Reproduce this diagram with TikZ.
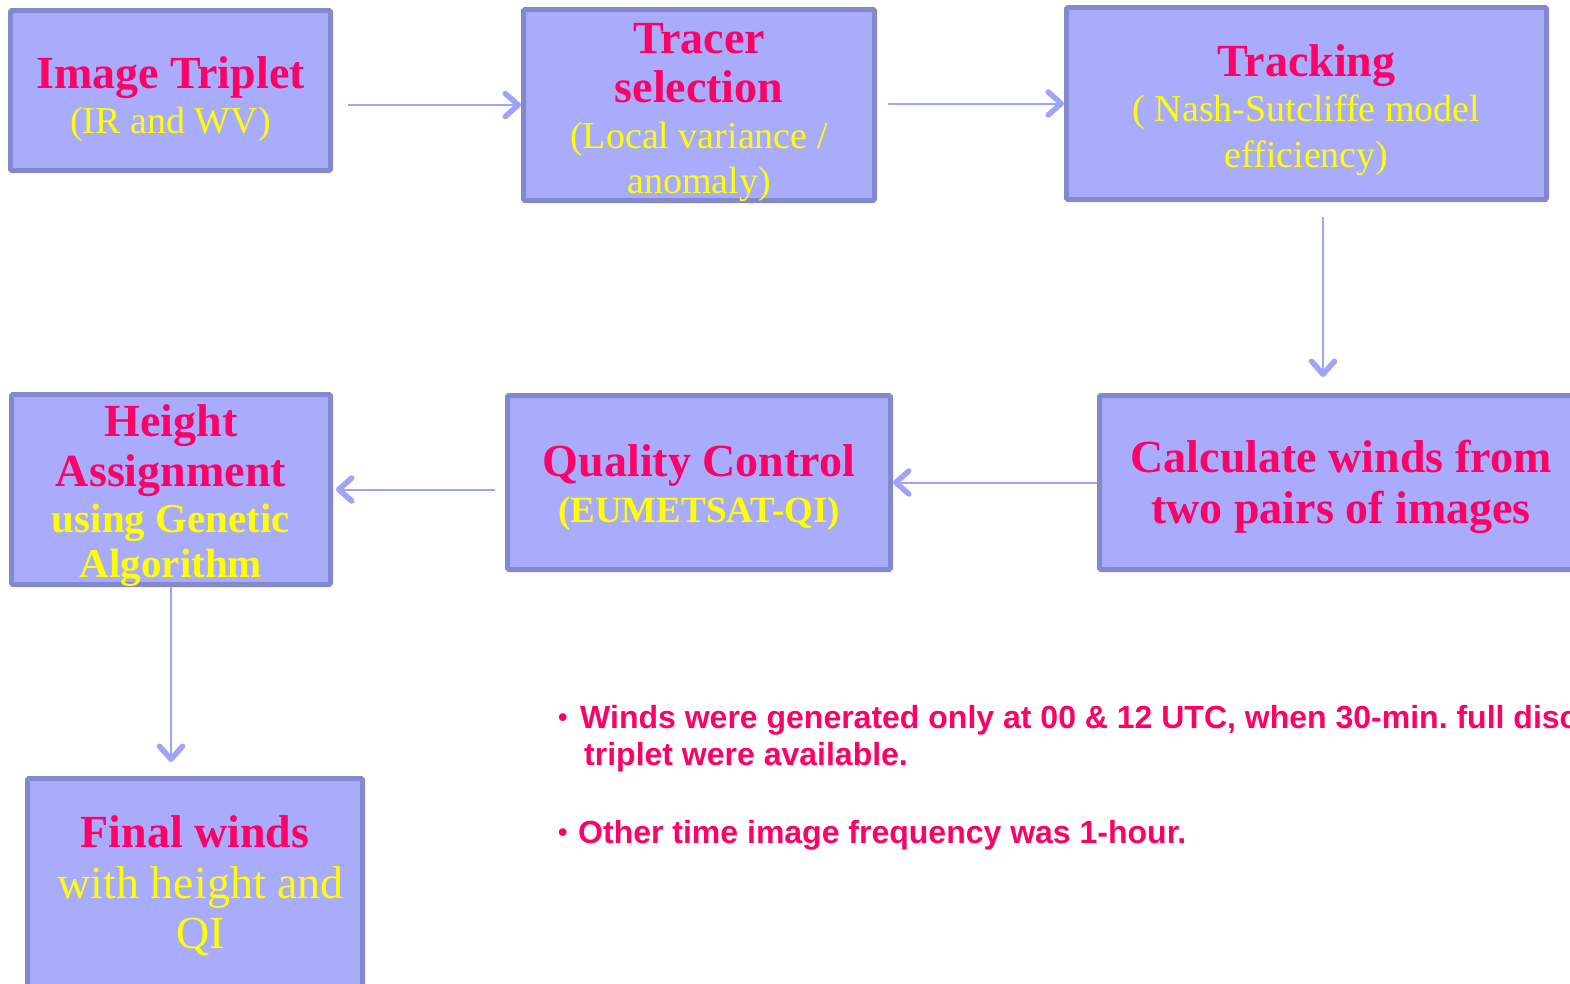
\documentclass[tikz,border=0pt]{standalone}
\usepackage{fontspec}
\setmainfont{Liberation Serif}
\newfontfamily\bulletfont{Liberation Sans}
\usetikzlibrary{positioning,arrows.meta}
\frenchspacing

\definecolor{boxfill}{RGB}{169,172,253}
\definecolor{boxline}{RGB}{132,136,204}
\definecolor{flowline}{RGB}{160,164,248}
\definecolor{titlepink}{RGB}{255,0,102}
\definecolor{noteyellow}{RGB}{255,255,0}

% line switches for the box texts
\newcommand{\boxtitle}{\color{titlepink}\bfseries\fontsize{46}{48}\selectfont}
\newcommand{\boxnote}[1][38]{\color{noteyellow}\mdseries\fontsize{#1}{48}\selectfont}

\begin{document}
\begin{tikzpicture}[x=1pt,y=-1pt,
    stepbox/.style={rectangle,draw=boxline,fill=boxfill,line width=5pt,
		rounded corners=1.5pt,inner sep=0pt,align=center,
		font=\fontsize{46}{48}\selectfont},
    flow/.style={draw=flowline,line width=2pt,
		-{Straight Barb[length=13pt,width=23pt,line width=5.5pt,round]}},
% bullet text style
    bullettext/.style={anchor=base west,inner sep=0pt,text=titlepink,
		font=\bulletfont\bfseries\fontsize{32}{37}\selectfont}
    ]
   \useasboundingbox (0,0) rectangle (1570,983);
   \clip (0,0) rectangle (1570,983);
   \fill[white] (0,0) rectangle (1570,983);

%%% Top row
   \node [stepbox,minimum width=320pt,text height=123pt,text depth=37pt] (triplet) at (170.5,90.5)
	{\boxtitle Image Triplet\\[-3pt] \boxnote (IR and WV)};
   \node [stepbox,minimum width=351pt,text height=183.8pt,text depth=7.2pt] (tracer) at (699,105)
	{\boxtitle Tracer\\[1pt] \boxtitle selection\\[-2pt] \boxnote (Local variance /\\[-3pt] \boxnote anomaly)};
   \node [stepbox,minimum width=480pt,text height=159.5pt,text depth=32.5pt] (tracking) at (1306.5,103.5)
	{\boxtitle Tracking\\[-3pt] \boxnote ( Nash-Sutcliffe model\\[-2pt] \boxnote efficiency)};

%%% Middle row
   \node [stepbox,minimum width=483pt,text height=127.8pt,text depth=46.2pt] (calcwinds) at (1341,482.5)
	{\boxtitle Calculate winds from\\[3pt] \boxtitle two pairs of images};
   \node [stepbox,minimum width=383pt,text height=126.5pt,text depth=47.5pt] (quality) at (699,482.5)
	{\boxtitle Quality Control\\[-2pt] \boxnote[37]\bfseries (EUMETSAT-QI)};
   \node [stepbox,minimum width=319pt,text height=182.8pt,text depth=7.2pt] (height) at (171,489.5)
	{\boxtitle Height\\[2pt] \boxtitle Assignment\\[-2pt] \boxnote[41]\bfseries using Genetic\\[-3pt] \boxnote[41]\bfseries Algorithm};

%%% Bottom
   \node [stepbox,minimum width=335pt,text height=169.8pt,text depth=49.2pt] (final) at (195,888)
	{\boxtitle Final winds\\[3pt] \boxnote[46] with height and\\[2pt] \boxnote[46] QI};

   \draw[flow,shorten <=15pt] (triplet.east |- tracer.west) -- (tracer.west);
   \draw[flow,shorten <=11pt] (tracer.east |- tracking.west) -- (tracking.west);
   \draw[flow,shorten <=15pt,shorten >=16pt] ([xshift=16.5pt]tracking.south)
	-- ([xshift=16.5pt]tracking.south |- calcwinds.north);
   \draw[flow] (calcwinds.west) -- (quality.east);
   \draw[flow,shorten <=10pt,shorten >=3pt] (quality.west |- height.east) -- (height.east);
   \draw[flow,shorten >=14pt] (height.south) -- (height.south |- final.north);

%%% Notes
   \node [bullettext] (noteone) at (558,728)
	{\makebox[22pt][l]{\raisebox{2pt}{\fontsize{27}{30}\selectfont•}}Winds were generated only at 00 \& 12 UTC, when 30-min. full disc};
   \node [bullettext] (noteonecont) at (584,765) {triplet were available.};
   \node [bullettext] (notetwo) at (558,843)
	{\makebox[20pt][l]{\raisebox{2pt}{\fontsize{27}{30}\selectfont•}}Other time image frequency was 1-hour.};
\end{tikzpicture}
\end{document}
